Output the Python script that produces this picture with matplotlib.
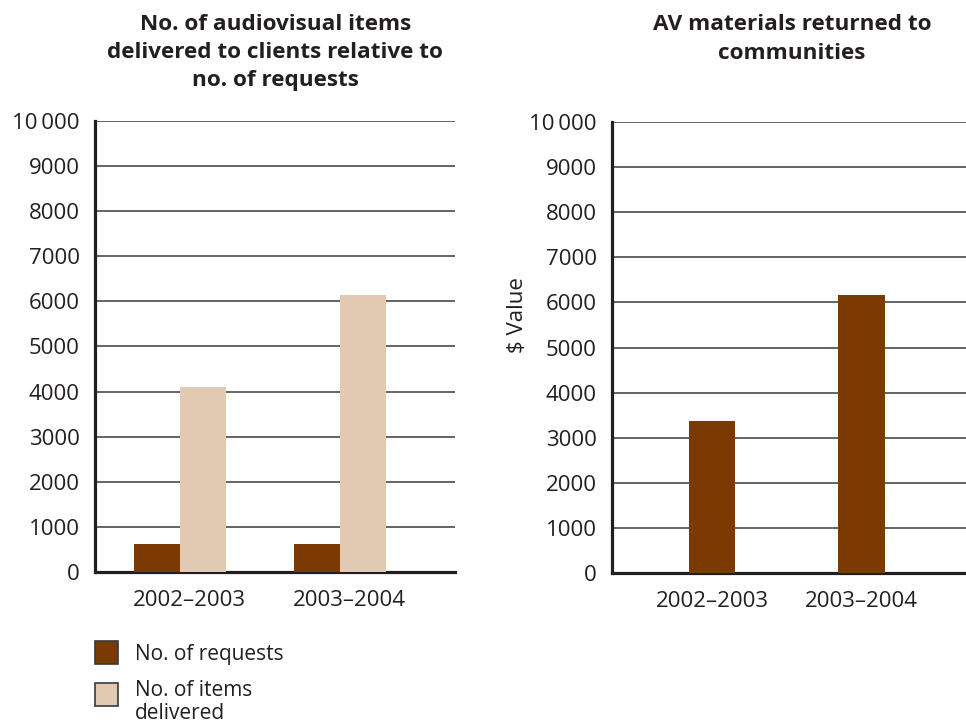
import matplotlib
matplotlib.use('Agg')
import matplotlib.pyplot as plt
from matplotlib.patches import Rectangle
import numpy as np

plt.rcParams['font.family'] = ['Open Sans', 'DejaVu Sans']

# data
years = ['2002\u20132003', '2003\u20132004']
requests = [630, 630]
delivered = [4100, 6140]
av_returned = [3370, 6160]

yticks = [0, 1000, 2000, 3000, 4000, 5000, 6000, 7000, 8000, 9000, 10000]
ytick_labels = ['0', '1000', '2000', '3000', '4000', '5000', '6000',
                '7000', '8000', '9000', '10\u2009000']

brown = '#7b3a02'
tan = '#e2c9b2'
text_col = '#231f20'
grid_col = '#4a4a4a'
fs = 16
title_fs = 16.2


def style_axis(ax, xlim):
    ax.set_ylim(0, 10000)
    ax.set_xlim(*xlim)
    ax.set_yticks(yticks)
    ax.set_yticklabels(ytick_labels, fontsize=fs, color=text_col)
    ax.yaxis.grid(True, color=grid_col, linewidth=1.2)
    ax.set_axisbelow(True)
    ax.tick_params(axis='both', length=0)
    ax.tick_params(axis='y', pad=11)
    ax.tick_params(axis='x', pad=13, labelsize=fs, labelcolor=text_col)
    for side in ['top', 'right']:
        ax.spines[side].set_visible(False)
    for side in ['left', 'bottom']:
        ax.spines[side].set_linewidth(2.3)
        ax.spines[side].set_color('#231f20')


fig = plt.figure(figsize=(9.66, 7.27), dpi=100)

# left chart: requests vs delivered
ax1 = fig.add_axes([0.0983, 0.2132, 0.3727, 0.6204])
x = np.arange(len(years))
w = 0.2875
ax1.bar(x - w / 2, requests, w, color=brown, zorder=3)
ax1.bar(x + w / 2, delivered, w, color=tan, zorder=3)
style_axis(ax1, (-0.53, 1.72))
ax1.set_xticks(x + 0.06)
ax1.set_xticklabels(years)
fig.text(0.285, 0.928,
         'No. of audiovisual items\ndelivered to clients relative to\nno. of requests',
         fontsize=title_fs, fontweight='bold', color=text_col,
         ha='center', va='center', linespacing=1.45)

# right chart: AV materials returned
ax2 = fig.add_axes([0.6335, 0.2118, 0.3665, 0.6204])
w2 = 0.309
ax2.bar(x, av_returned, w2, color=brown, zorder=3)
style_axis(ax2, (-0.67, 1.70))
ax2.set_xticks(x)
ax2.set_xticklabels(years)
ax2.set_ylabel('$ Value', fontsize=fs, color=text_col)
ax2.yaxis.set_label_coords(-0.237, 0.572)
fig.text(0.820, 0.946, 'AV materials returned to\ncommunities',
         fontsize=title_fs, fontweight='bold', color=text_col,
         ha='center', va='center', linespacing=1.5)

# legend boxes and labels
for y0, col in [(0.0867, brown), (0.0289, tan)]:
    fig.patches.append(Rectangle((0.0983, y0), 0.0238, 0.0316, facecolor=col,
                                 edgecolor='#3a3a3a', linewidth=1.2,
                                 transform=fig.transFigure, figure=fig))
fig.text(0.1398, 0.1004, 'No. of requests', fontsize=15, color=text_col,
         ha='left', va='center')
fig.text(0.1398, 0.034, 'No. of items\ndelivered', fontsize=15, color=text_col,
         ha='left', va='center', linespacing=1.15)

fig.savefig('out.png', dpi=100)
